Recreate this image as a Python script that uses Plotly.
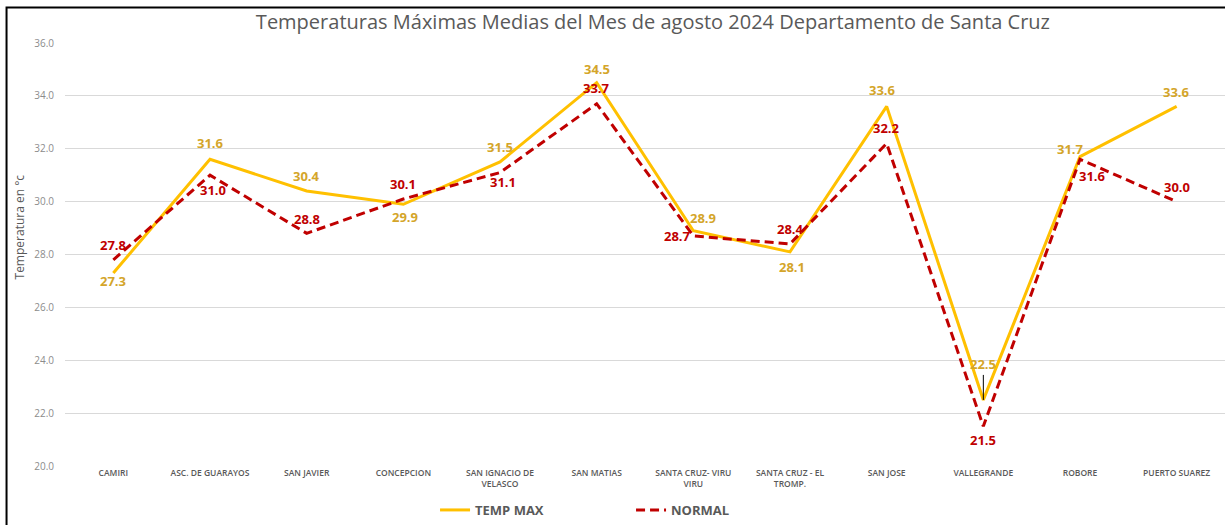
import plotly.graph_objects as go

categories = ["CAMIRI", "ASC. DE GUARAYOS", "SAN JAVIER", "CONCEPCION",
              "SAN IGNACIO DE<br>VELASCO", "SAN MATIAS", "SANTA CRUZ- VIRU<br>VIRU",
              "SANTA CRUZ - EL<br>TROMP.", "SAN JOSE", "VALLEGRANDE", "ROBORE", "PUERTO SUAREZ"]
temp_max = [27.3, 31.6, 30.4, 29.9, 31.5, 34.5, 28.9, 28.1, 33.6, 22.5, 31.7, 33.6]
normal = [27.8, 31.0, 28.8, 30.1, 31.1, 33.7, 28.7, 28.4, 32.2, 21.5, 31.6, 30.0]

# label pixel offsets (xshift, yshift) -- style only
tmax_off = [(0, -8), (0, 16), (0, 15), (2, -13), (0, 15), (0, 14),
            (10, 13), (2, -15), (-4, 16), None, (-10, 8), (0, 14)]
norm_off = [(0, 15), (3, -15), (0, 14), (0, 15), (3, -9), (0, 16),
            (-16, 0), (0, 15), (0, 15), (0, -14), (12, -17), (0, 15)]

GOLD = "#FFC000"
GOLD_TXT = "#D4A52A"
RED = "#C00000"
GREY = "#595959"
FONT = "Open Sans"

fig = go.Figure()

fig.add_trace(go.Scatter(
    x=categories, y=temp_max, name="TEMP MAX", mode="lines",
    line=dict(color=GOLD, width=3),
))
fig.add_trace(go.Scatter(
    x=categories, y=normal, name="NORMAL", mode="lines",
    line=dict(color=RED, width=3, dash="9px,5px"),
))

lab_font_g = dict(color=GOLD_TXT, size=13, family=FONT, weight="bold")
lab_font_r = dict(color=RED, size=13, family=FONT, weight="bold")

for c, v, off in zip(categories, temp_max, tmax_off):
    if off is None:
        fig.add_annotation(x=c, y=v, text=f"{v:.1f}", showarrow=True, arrowhead=0,
                           arrowwidth=1, arrowcolor="black", ax=0, ay=-25,
                           yanchor="bottom", font=lab_font_g)
    else:
        fig.add_annotation(x=c, y=v, text=f"{v:.1f}", showarrow=False,
                           xshift=off[0], yshift=off[1], font=lab_font_g)
for c, v, off in zip(categories, normal, norm_off):
    fig.add_annotation(x=c, y=v, text=f"{v:.1f}", showarrow=False,
                       xshift=off[0], yshift=off[1], font=lab_font_r)

# y-axis title
fig.add_annotation(xref="paper", yref="paper", x=-0.0483, y=0.565,
                   text="Temperatura en °c", textangle=-90, showarrow=False,
                   font=dict(family=FONT, size=12, color=GREY))

fig.update_layout(
    width=1225, height=525,
    paper_bgcolor="white", plot_bgcolor="white",
    margin=dict(l=65, r=0, t=43, b=59),
    title=dict(text="Temperaturas Máximas Medias del Mes de agosto 2024 Departamento de Santa Cruz",
               x=0.533, xanchor="center", y=0.958, yanchor="middle",
               font=dict(family=FONT, size=20, color=GREY)),
    showlegend=True,
    legend=dict(orientation="h", x=0.319, xanchor="left",
                yref="container", y=0.0286, yanchor="middle",
                font=dict(family=FONT, size=13, color=GREY, weight="bold"),
                itemwidth=30, entrywidthmode="pixels", entrywidth=151),
    font=dict(family=FONT, color=GREY),
)
fig.update_xaxes(
    type="category", range=[-0.5, len(categories) - 0.5],
    showgrid=False, showline=False, ticks="", automargin=False,
    tickfont=dict(family=FONT, size=8.5, color=GREY, weight=600),
    tickangle=0,
)
fig.update_yaxes(
    range=[20, 36], dtick=2, tickformat=".1f", automargin=False,
    showgrid=True, gridcolor="#D9D9D9", gridwidth=1, zeroline=False, showline=False,
    ticks="", ticklabelstandoff=10,
    tickfont=dict(family=FONT, size=10, color="#8C8C8C"),
)

fig.add_shape(type="rect", xref="paper", yref="paper",
              x0=-0.0504, x1=1.05, y0=-0.3, y1=1.084,
              line=dict(color="black", width=2), fillcolor="rgba(0,0,0,0)", layer="above")

fig.write_html("out.html", config={"displayModeBar": False},
               post_script="document.body.style.margin='0';")
